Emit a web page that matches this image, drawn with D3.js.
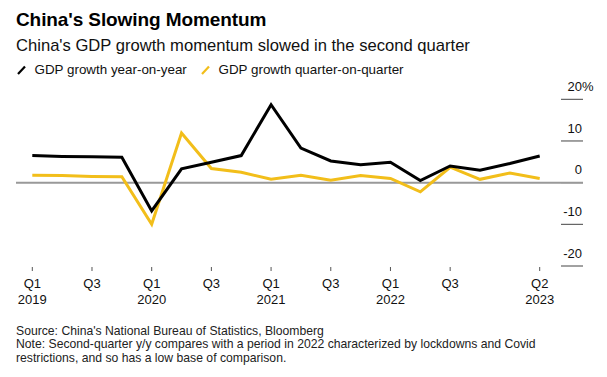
<!DOCTYPE html>
<html>
<head>
<meta charset="utf-8">
<script src="https://cdn.jsdelivr.net/npm/d3@7"></script>
<style>
  html, body { margin: 0; padding: 0; background: #fff; }
  svg { display: block; font-family: "Liberation Sans", Arial, Helvetica, sans-serif; }
</style>
</head>
<body>
<svg id="chart" width="607" height="377"></svg>
<script>
// ---- data ----
const quarters = ["2019Q1","2019Q2","2019Q3","2019Q4","2020Q1","2020Q2","2020Q3","2020Q4",
                  "2021Q1","2021Q2","2021Q3","2021Q4","2022Q1","2022Q2","2022Q3","2022Q4",
                  "2023Q1","2023Q2"];
const yoy = [6.5, 6.3, 6.2, 6.1, -6.8, 3.3, 4.9, 6.5, 18.7, 8.3, 5.2, 4.3, 4.9, 0.5, 4.0, 3.0, 4.6, 6.4];
const qoq = [1.8, 1.7, 1.5, 1.4, -10.0, 11.9, 3.4, 2.5, 0.8, 1.8, 0.6, 1.7, 1.0, -2.2, 3.7, 0.8, 2.3, 1.0];
const xTicks = ["2019Q1","2019Q3","2020Q1","2020Q3","2021Q1","2021Q3","2022Q1","2022Q3","2023Q2"];
const xTickTop = ["Q1","Q3","Q1","Q3","Q1","Q3","Q1","Q3","Q2"];
const xTickBottom = ["2019","","2020","","2021","","2022","","2023"];
const yTicks = [20, 10, 0, -10, -20];
const seriesNames = ["GDP growth year-on-year", "GDP growth quarter-on-quarter"];
const title = "China's Slowing Momentum";
const subtitle = "China's GDP growth momentum slowed in the second quarter";
const footer = [
  "Source: China's National Bureau of Statistics, Bloomberg",
  "Note: Second-quarter y/y compares with a period in 2022 characterized by lockdowns and Covid",
  "restrictions, and so has a low base of comparison."
];

// ---- layout ----
const svg = d3.select("#chart");
const colors = ["#000000", "#f2be1a"];

const x = d3.scalePoint().domain(quarters).range([32.3, 539.7]);
const y = d3.scaleLinear().domain([-20, 20]).range([266, 99.3]);

// title / subtitle
svg.append("text").attr("x", 16).attr("y", 26)
  .attr("font-size", 19).attr("font-weight", "bold").attr("fill", "#000")
  .attr("letter-spacing", -0.1)
  .text(title);
svg.append("text").attr("x", 16).attr("y", 51)
  .attr("font-size", 16.6).attr("fill", "#111")
  .text(subtitle);

// legend
const legendX = [17, 201];
seriesNames.forEach((name, i) => {
  const g = svg.append("g");
  g.append("line").attr("x1", legendX[i] + 1).attr("y1", 74)
    .attr("x2", legendX[i] + 8).attr("y2", 66.5)
    .attr("stroke", colors[i]).attr("stroke-width", 2.2);
  g.append("text").attr("x", legendX[i] + 17.5).attr("y", 74)
    .attr("font-size", 13.4).attr("fill", "#111").text(name);
});

// y axis (right side, short rules with labels above)
const yg = svg.append("g");
yTicks.forEach(v => {
  yg.append("line").attr("x1", 561).attr("x2", 583)
    .attr("y1", y(v)).attr("y2", y(v))
    .attr("stroke", "#444").attr("stroke-width", 1);
  const t = yg.append("text").attr("x", 582).attr("y", y(v) - 8.3)
    .attr("font-size", 13).attr("fill", "#111").attr("text-anchor", "end")
    .text(v);
  if (v === 20) {
    yg.append("text").attr("x", 582).attr("y", y(v) - 8.3)
      .attr("font-size", 13).attr("fill", "#111").text("%");
  }
});

// zero line
svg.append("line").attr("x1", 16).attr("x2", 583)
  .attr("y1", y(0)).attr("y2", y(0))
  .attr("stroke", "#999").attr("stroke-width", 2);

// x axis ticks
const xg = svg.append("g");
xTicks.forEach((q, i) => {
  const xx = x(q);
  xg.append("line").attr("x1", xx).attr("x2", xx).attr("y1", 267).attr("y2", 271)
    .attr("stroke", "#555").attr("stroke-width", 1);
  xg.append("text").attr("x", xx).attr("y", 288).attr("text-anchor", "middle")
    .attr("font-size", 13).attr("fill", "#111").text(xTickTop[i]);
  if (xTickBottom[i]) {
    xg.append("text").attr("x", xx).attr("y", 304).attr("text-anchor", "middle")
      .attr("font-size", 13).attr("fill", "#111").text(xTickBottom[i]);
  }
});

// lines
const line = d3.line().x((d, i) => x(quarters[i])).y(d => y(d));
[qoq, yoy].forEach((s, k) => {
  svg.append("path").datum(s)
    .attr("d", line)
    .attr("fill", "none")
    .attr("stroke", k === 0 ? colors[1] : colors[0])
    .attr("stroke-width", 3)
    .attr("stroke-linejoin", "miter");
});

// footer
footer.forEach((f, i) => {
  svg.append("text").attr("x", 16).attr("y", 335 + i * 13.3)
    .attr("font-size", 12.2).attr("fill", "#222").text(f);
});
</script>
</body>
</html>
